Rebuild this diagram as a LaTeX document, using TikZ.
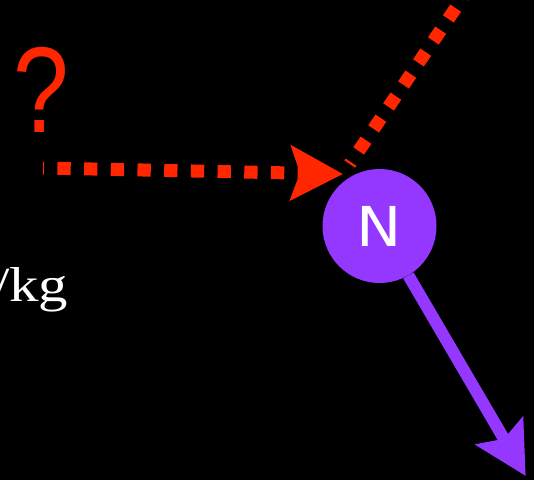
\documentclass[tikz,border=0pt]{standalone}
\usepackage{fontspec}
\setmainfont{Liberation Serif}
\newfontfamily\qfont{Liberation Sans}
\newfontfamily\nfont{DejaVu Sans}
\usetikzlibrary{arrows.meta}
\definecolor{kred}{HTML}{FF2600}
\definecolor{kpurple}{HTML}{9437FF}
\tikzset{
  redline/.style={draw=kred, line width=13pt},
  purpleline/.style={draw=kpurple, line width=12pt},
  bigtip/.style={-{Stealth[length=52pt,width=54pt,inset=9pt]}},
  nodecircle/.style={circle, fill=kpurple, minimum size=114pt, inner sep=0pt, text=white,
    font=\nfont\fontsize{55}{55}\selectfont}
}
\begin{document}
\begin{tikzpicture}[x=1pt,y=-1pt]
\fill[black] (0,0) rectangle (534,480);
\useasboundingbox (0,0) rectangle (534,480);
\clip (0,0) rectangle (534,480);

\node[nodecircle] (N) at (379.5,226) {\scalebox{1.1}[1]{N}};

\coordinate (tail) at (43,168);
\coordinate (tip) at (343,174);
\coordinate (far) at (466.6,-8);
\coordinate (pend) at (525.7,476);

\node[anchor=base, text=kred, xscale=0.82, font=\qfont\fontsize{122}{122}\selectfont] (q) at (41,132) {?};
\node[anchor=base west, text=white, font=\fontsize{49}{49}\selectfont, inner sep=0pt] (unit) at (-7,301.5) {\scalebox{1.2}[1]{/kg}};

\draw[redline, dash pattern=on 13.3pt off 13.4pt, dash phase=12.3pt, bigtip] (tail) -- (tip);
\draw[redline, dash pattern=on 13pt off 13.6pt, dash phase=10.7pt, shorten <=12pt] (tip) -- (far);
\draw[purpleline, bigtip] (N) -- (pend);
\end{tikzpicture}
\end{document}
